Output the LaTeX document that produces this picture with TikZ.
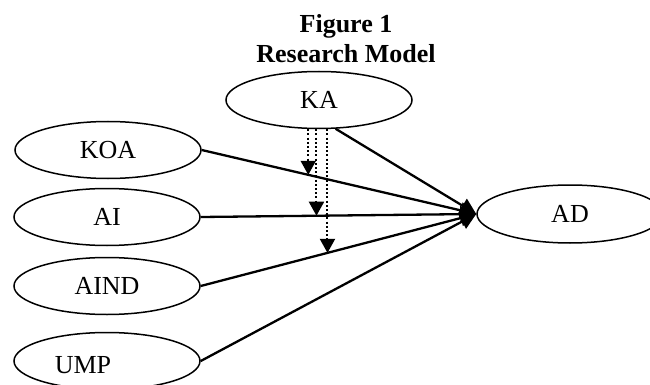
\documentclass[tikz,border=0pt]{standalone}
\usepackage{fontspec}
\setmainfont{Liberation Serif}
\usetikzlibrary{shapes.geometric,arrows.meta}
\tikzset{
  construct/.style={draw, ellipse, line width=1.5pt, minimum width=186pt, minimum height=57pt, inner sep=0pt, font=\fontsize{26}{30}\selectfont},
  plain/.style={inner sep=0pt, font=\fontsize{26}{30}\selectfont},
  titletext/.style={inner sep=0pt, anchor=base, font=\fontsize{26}{30}\selectfont\bfseries},
  path/.style={line width=2.3pt, -{Triangle[length=16pt,width=16pt]}},
  moderator/.style={line width=2pt, dash pattern=on 2pt off 2.2pt, -{Triangle[length=14pt,width=15pt]}}
}
\begin{document}
\begin{tikzpicture}[x=1pt,y=-1pt]
\useasboundingbox (0,0) rectangle (650,385);
\node[titletext] (t1) at (346,33) {Figure 1};
\node[titletext] (t2) at (346,63) {Research Model};
\node[construct] (KA) at (319,100) {KA};
\node[construct] (KOA) at (108,150) {KOA};
\node[construct] (AI) at (107,217) {AI};
\node[construct] (AIND) at (107,286) {AIND};
\node[construct] (UMP) at (107,361) {};
\node[plain] (umplabel) at (83,365.5) {UMP};
\node[construct, minimum height=58pt] (AD) at (570,214) {AD};
\draw[path] (KOA.east) -- (AD.west);
\draw[path] (AI.east) -- (AD.west);
\draw[path] (AIND.east) -- (AD.west);
\draw[path] (UMP.east) -- (AD.west);
\draw[path] (KA.-60) -- (AD.west);
\path (KOA.east) -- (AD.west) coordinate[pos=0.388] (m1);
\path (AI.east) -- (AD.west) coordinate[pos=0.42] (m2);
\path (AIND.east) -- (AD.west) coordinate[pos=0.46] (m3);
\draw[moderator] (KA.south -| m1) -- (m1);
\draw[moderator] (KA.south -| m2) -- (m2);
\draw[moderator] (KA.south -| m3) -- (m3);
\end{tikzpicture}
\end{document}
